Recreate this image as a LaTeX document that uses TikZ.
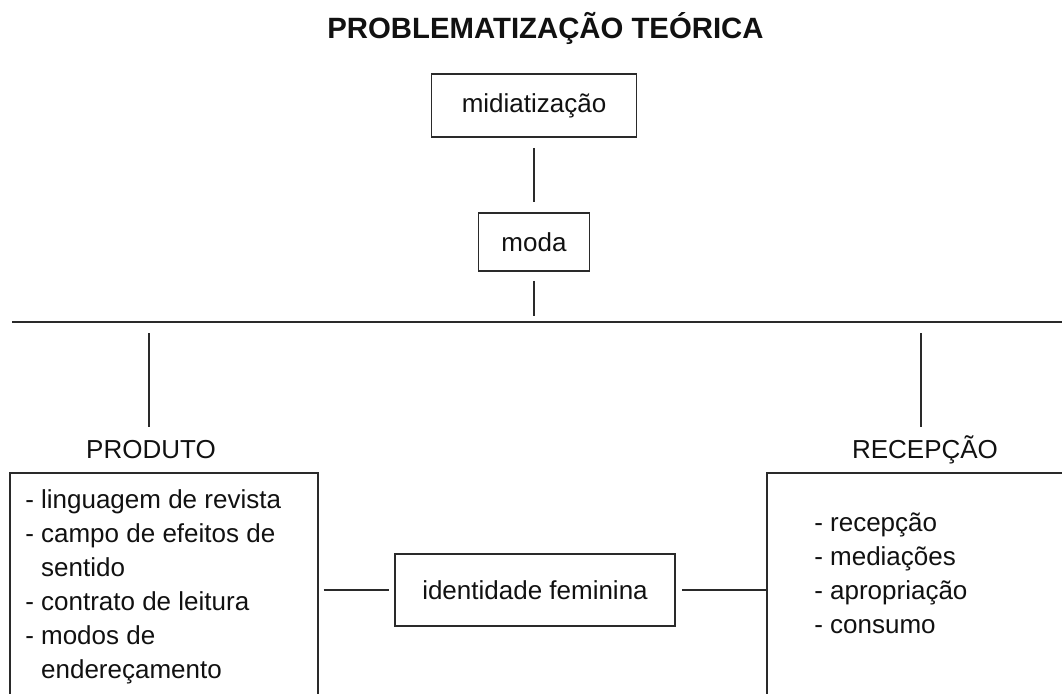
\documentclass[tikz,border=0pt]{standalone}
\usepackage{fontspec}
\setmainfont{Liberation Sans}
\tikzset{
  boxed/.style={draw=linecol, line width=1.3pt, inner sep=0pt, text=textcol, font=\fontsize{19.5pt}{25.5pt}\selectfont},
  conn/.style={draw=linecol, line width=1.3pt},
  txt/.style={inner sep=0pt, text=textcol, font=\fontsize{19.5pt}{25.5pt}\selectfont, align=left},
  lbl/.style={txt, anchor=base, text height=14pt, text depth=4pt}
}
\begin{document}
\begin{tikzpicture}[x=0.75pt, y=-0.75pt]
\definecolor{linecol}{HTML}{2A2A2A}
\definecolor{textcol}{HTML}{111111}
\useasboundingbox (0,0) rectangle (1062,693);
\node[anchor=base, inner sep=0pt, text=textcol, font=\bfseries\fontsize{22pt}{26pt}\selectfont] (title) at (545.5,38) {PROBLEMATIZAÇÃO TEÓRICA};
\node[boxed, minimum width=153.75pt, minimum height=47.25pt] (midia) at (534,105.5) {midiatização};
\node[boxed, minimum width=83.25pt, minimum height=43.5pt] (moda) at (534,242) {moda};
\coordinate (barL) at (12,322);
\coordinate (barR) at (1062,322);
\coordinate (barM) at (534,322);
\coordinate (barP) at (149,322);
\coordinate (barQ) at (921,322);
\draw[conn] (barL) -- (barR);
\draw[conn, shorten <=7.5pt, shorten >=7.5pt] (midia) -- (moda);
\draw[conn, shorten <=6.75pt, shorten >=4.5pt] (moda) -- (barM);
\node[lbl] (prodlbl) at (151,458) {PRODUTO};
\node[lbl] (reclbl) at (925,458) {RECEPÇÃO};
\draw[conn, shorten <=8.25pt, shorten >=9.2pt] (barP) -- (barP |- prodlbl.north);
\draw[conn, shorten <=8.25pt, shorten >=9.2pt] (barQ) -- (barQ |- reclbl.north);
\node[boxed, anchor=north west, minimum width=231pt, minimum height=225pt] (prodbox) at (9,472) {};
\node[boxed, anchor=north west, minimum width=240pt, minimum height=225pt] (recbox) at (766,472) {};
\node[txt, anchor=north west] (prodlist) at (25,489) {- linguagem de revista\\- campo de efeitos de\\\hphantom{- }sentido\\- contrato de leitura\\- modos de\\\hphantom{- }endereçamento};
\node[txt, anchor=north west] (reclist) at (814,513) {- recepção\\- mediações\\- apropriação\\- consumo};
\node[boxed, minimum width=210pt, minimum height=54pt] (ident) at (535,590) {identidade feminina};
\draw[conn, shorten <=3.75pt, shorten >=3.75pt] (ident.west -| prodbox.east) -- (ident.west);
\draw[conn, shorten <=4.5pt] (ident.east) -- (ident.east -| recbox.west);
\end{tikzpicture}
\end{document}
